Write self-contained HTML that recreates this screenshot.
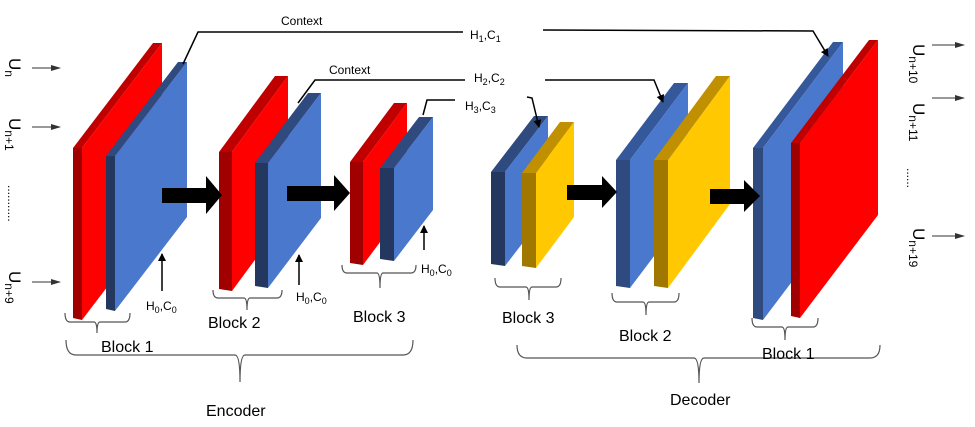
<!DOCTYPE html>
<html><head><meta charset="utf-8"><style>
html,body{margin:0;padding:0;background:#fff;}
svg{display:block;}
text{font-family:"Liberation Sans",sans-serif;fill:#000;}
.b{font-size:16px;}
.s{font-size:12px;}
</style></head><body>
<svg width="975" height="427" viewBox="0 0 975 427" xmlns="http://www.w3.org/2000/svg">
<defs>
<marker id="ah" markerWidth="8" markerHeight="8" refX="7" refY="4" orient="auto" markerUnits="userSpaceOnUse"><path d="M0,0 L8,4 L0,8 z" fill="#000"/></marker>
<marker id="ag" markerWidth="10" markerHeight="8" refX="9" refY="4" orient="auto" markerUnits="userSpaceOnUse"><path d="M0,1 L10,4 L0,7 z" fill="#333"/></marker>
</defs>

<!-- Encoder block 1 -->
<polygon points="73,148 82,148 82,320 73,318" fill="#a00000"/>
<polygon points="73,148 153,43 162,43 82,148" fill="#c00000"/>
<polygon points="82,148 162,43 162,215 82,320" fill="#ff0000"/>
<polygon points="106,156 115,156 115,311 106,309" fill="#24385f"/>
<polygon points="106,156 178,62 187,62 115,156" fill="#2e4a7f"/>
<polygon points="115,156 187,62 187,217 115,311" fill="#4a78cd"/>
<!-- Encoder block 2 -->
<polygon points="219,152 232,152 232,291 219,289" fill="#a00000"/>
<polygon points="219,152 275,76 288,76 232,152" fill="#c00000"/>
<polygon points="232,152 288,76 288,215 232,291" fill="#ff0000"/>
<polygon points="255,163 268,163 268,288 255,286" fill="#24385f"/>
<polygon points="255,163 308,93 321,93 268,163" fill="#2e4a7f"/>
<polygon points="268,163 321,93 321,218 268,288" fill="#4a78cd"/>
<!-- Encoder block 3 -->
<polygon points="350,162 363,162 363,265 350,263" fill="#a00000"/>
<polygon points="350,162 394,103 407,103 363,162" fill="#c00000"/>
<polygon points="363,162 407,103 407,206 363,265" fill="#ff0000"/>
<polygon points="380,168 394,168 394,261 380,259" fill="#24385f"/>
<polygon points="380,168 419,117 433,117 394,168" fill="#2e4a7f"/>
<polygon points="394,168 433,117 433,210 394,261" fill="#4a78cd"/>
<!-- Decoder block 3 -->
<polygon points="491,172 505,172 505,266 491,264" fill="#24385f"/>
<polygon points="491,172 534,116 548,116 505,172" fill="#2e4a7f"/>
<polygon points="505,172 548,116 548,210 505,266" fill="#4a78cd"/>
<polygon points="522,173 536,173 536,268 522,266" fill="#a07800"/>
<polygon points="522,173 560,122 574,122 536,173" fill="#c09000"/>
<polygon points="536,173 574,122 574,217 536,268" fill="#ffc800"/>
<!-- Decoder block 2 -->
<polygon points="616,160 630,160 630,288 616,286" fill="#2e4a7f"/>
<polygon points="616,160 674,83 688,83 630,160" fill="#34589a"/>
<polygon points="630,160 688,83 688,211 630,288" fill="#4a78cd"/>
<polygon points="654,160 668,160 668,288 654,286" fill="#a07800"/>
<polygon points="654,160 716,76 730,76 668,160" fill="#c09000"/>
<polygon points="668,160 730,76 730,204 668,288" fill="#ffc800"/>
<!-- Decoder block 1 -->
<polygon points="753,148 763,148 763,320 753,318" fill="#2e4a7f"/>
<polygon points="753,148 833,42 843,42 763,148" fill="#34589a"/>
<polygon points="763,148 843,42 843,214 763,320" fill="#4a78cd"/>
<polygon points="791,143 800,143 800,318 791,316" fill="#a00000"/>
<polygon points="791,143 869,40 878,40 800,143" fill="#c00000"/>
<polygon points="800,143 878,40 878,215 800,318" fill="#ff0000"/>

<!-- block arrows -->
<polygon points="162,188 206,188 206,176 222,195 206,214 206,203 162,203" fill="#000"/>
<polygon points="287,186 334,186 334,175 350,193 334,211 334,201 287,201" fill="#000"/>
<polygon points="567,185 602,185 602,176 617,192 602,208 602,200 567,200" fill="#000"/>
<polygon points="710,189 744,189 744,180 760,196 744,212 744,204 710,204" fill="#000"/>

<!-- context lines -->
<polyline points="183,64 198,32 463,32" fill="none" stroke="#000" stroke-width="1.5"/>
<text x="281" y="25" class="s">Context</text>
<text x="470" y="39" class="s">H<tspan font-size="9" dy="3">1</tspan><tspan dy="-3">,C</tspan><tspan font-size="9" dy="3">1</tspan></text>
<polyline points="543,30 813,31 828,56" fill="none" stroke="#000" stroke-width="1.5" marker-end="url(#ah)"/>
<polyline points="298,103 315,80 465,80" fill="none" stroke="#000" stroke-width="1.5"/>
<text x="329" y="74" class="s">Context</text>
<text x="474" y="82" class="s">H<tspan font-size="9" dy="3">2</tspan><tspan dy="-3">,C</tspan><tspan font-size="9" dy="3">2</tspan></text>
<polyline points="545,80 654,80 663,102" fill="none" stroke="#000" stroke-width="1.5" marker-end="url(#ah)"/>
<polyline points="423,115 427,100 455,100" fill="none" stroke="#000" stroke-width="1.5"/>
<text x="465" y="110" class="s">H<tspan font-size="9" dy="3">3</tspan><tspan dy="-3">,C</tspan><tspan font-size="9" dy="3">3</tspan></text>
<polyline points="527,97 532,98 539,127" fill="none" stroke="#000" stroke-width="1.5" marker-end="url(#ah)"/>

<!-- H0 arrows -->
<line x1="162" y1="291" x2="162" y2="254" stroke="#000" stroke-width="1.5" marker-end="url(#ah)"/>
<text x="146" y="310" class="s">H<tspan font-size="9" dy="3">0</tspan><tspan dy="-3">,C</tspan><tspan font-size="9" dy="3">0</tspan></text>
<line x1="299" y1="285" x2="299" y2="255" stroke="#000" stroke-width="1.5" marker-end="url(#ah)"/>
<text x="296" y="301" class="s">H<tspan font-size="9" dy="3">0</tspan><tspan dy="-3">,C</tspan><tspan font-size="9" dy="3">0</tspan></text>
<line x1="424" y1="250" x2="424" y2="226" stroke="#000" stroke-width="1.5" marker-end="url(#ah)"/>
<text x="421" y="273" class="s">H<tspan font-size="9" dy="3">0</tspan><tspan dy="-3">,C</tspan><tspan font-size="9" dy="3">0</tspan></text>

<!-- inputs left -->
<line x1="32" y1="68" x2="60" y2="68" stroke="#333" stroke-width="1" marker-end="url(#ag)"/>
<line x1="32" y1="127" x2="60" y2="127" stroke="#333" stroke-width="1" marker-end="url(#ag)"/>
<line x1="32" y1="282" x2="60" y2="282" stroke="#333" stroke-width="1" marker-end="url(#ag)"/>
<text transform="translate(9,58) rotate(90)" style="font-size:17px">U<tspan font-size="12" dy="4">n</tspan></text>
<text transform="translate(9,118) rotate(90)" style="font-size:17px">U<tspan font-size="12" dy="4">n+1</tspan></text>
<text transform="translate(8,185) rotate(90)" style="font-size:12px">...........</text>
<text transform="translate(9,271) rotate(90)" style="font-size:17px">U<tspan font-size="12" dy="4">n+9</tspan></text>
<!-- outputs right -->
<line x1="932" y1="45" x2="964" y2="45" stroke="#333" stroke-width="1" marker-end="url(#ag)"/>
<line x1="932" y1="98" x2="964" y2="98" stroke="#333" stroke-width="1" marker-end="url(#ag)"/>
<line x1="932" y1="236" x2="964" y2="236" stroke="#333" stroke-width="1" marker-end="url(#ag)"/>
<text transform="translate(913,44) rotate(90)" style="font-size:17px">U<tspan font-size="12" dy="4">n+10</tspan></text>
<text transform="translate(913,103) rotate(90)" style="font-size:17px">U<tspan font-size="12" dy="4">n+11</tspan></text>
<text transform="translate(907,168) rotate(90)" style="font-size:12px">......</text>
<text transform="translate(913,228) rotate(90)" style="font-size:17px">U<tspan font-size="12" dy="4">n+19</tspan></text>

<!-- braces -->
<g fill="none" stroke="#555" stroke-width="1.2">
<path d="M65,313 Q65,322 70,322 L94,322 Q97,322 97,333 Q97,322 100,322 L125,322 Q130,322 130,313"/>
<path d="M213,290 Q213,298 218,298 L244,298 Q247,298 247,310 Q247,298 250,298 L277,298 Q282,298 282,290"/>
<path d="M342,265 Q342,273 347,273 L377,273 Q380,273 380,288 Q380,273 383,273 L411,273 Q416,273 416,265"/>
<path d="M66,340 Q66,355 76,355 L235,355 Q240,355 240,382 Q240,355 245,355 L403,355 Q413,355 413,340"/>
<path d="M495,278 Q495,287 500,287 L526,287 Q529,287 529,300 Q529,287 532,287 L556,287 Q561,287 561,278"/>
<path d="M612,293 Q612,302 617,302 L643,302 Q646,302 646,315 Q646,302 649,302 L674,302 Q679,302 679,293"/>
<path d="M752,318 Q752,327 757,327 L782,327 Q785,327 785,340 Q785,327 788,327 L813,327 Q818,327 818,318"/>
<path d="M517,345 Q517,358 527,358 L694,358 Q699,358 699,383 Q699,358 704,358 L870,358 Q880,358 880,345"/>
</g>
<text x="101" y="352" class="b">Block 1</text>
<text x="208" y="328" class="b">Block 2</text>
<text x="353" y="322" class="b">Block 3</text>
<text x="206" y="416" class="b">Encoder</text>
<text x="502" y="323" class="b">Block 3</text>
<text x="619" y="341" class="b">Block 2</text>
<text x="762" y="359" class="b">Block 1</text>
<text x="670" y="405" class="b">Decoder</text>
</svg>
</body></html>
